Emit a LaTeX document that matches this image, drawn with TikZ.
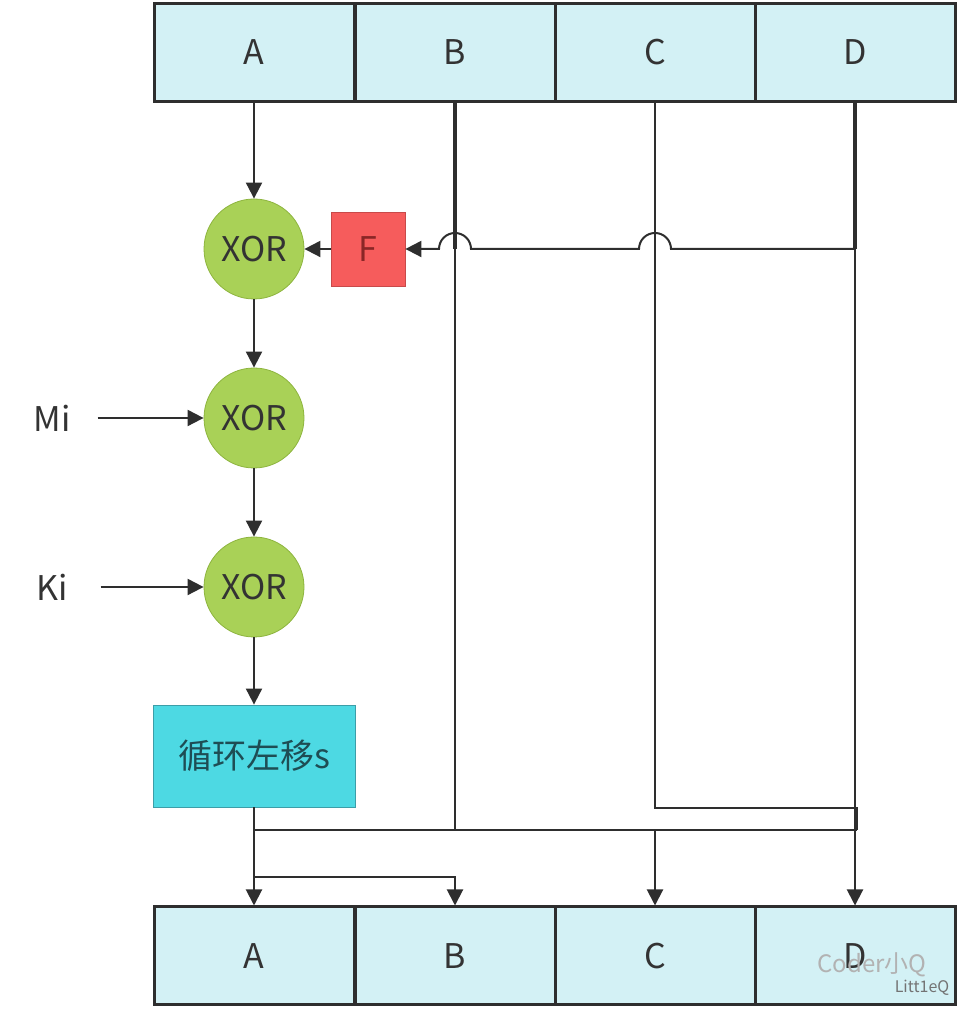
\documentclass[tikz,border=0pt]{standalone}
\usepackage{fontspec}
\setmainfont{Noto Sans CJK SC}
\usepackage{xcolor}
\usepackage{tikz}
\usetikzlibrary{arrows.meta,positioning}

\definecolor{cellfill}{HTML}{D3F1F5}
\definecolor{edge}{HTML}{2E2E2E}
\definecolor{txt}{HTML}{333333}
\definecolor{xorfill}{HTML}{A9D157}
\definecolor{xoredge}{HTML}{8DB43E}
\definecolor{ffill}{HTML}{F65C5C}
\definecolor{fedge}{HTML}{C84A4A}
\definecolor{ftext}{HTML}{8A2626}
\definecolor{sfill}{HTML}{4DD9E3}
\definecolor{sedge}{HTML}{3C9EA8}
\definecolor{stext}{HTML}{1E4D54}

\begin{document}
\begin{tikzpicture}[
    x=0.5pt, y=0.5pt,
    >={Triangle[length=8pt,width=8pt]},
    font=\fontsize{17}{20}\selectfont,
    text=txt,
    cell/.style={
        draw=edge,
        line width=1.5pt,
        fill=cellfill,
        minimum width=100pt,
        minimum height=49pt,
        inner sep=0pt
    },
    xorc/.style={
        circle,
        draw=xoredge,
        fill=xorfill,
        minimum size=50pt,
        inner sep=0pt
    },
    func/.style={
        draw=fedge,
        fill=ffill,
        minimum size=37pt,
        inner sep=0pt,
        text=ftext
    },
    shiftbox/.style={
        draw=sedge,
        fill=sfill,
        minimum width=101pt,
        minimum height=51pt,
        text=stext
    },
    line/.style={draw=edge, line width=1pt},
    arr/.style={line, ->}
]

\useasboundingbox (0,0) rectangle (960,1010);

% input registers
\node[cell] (tA) at (254,957.5) {A};
\node[cell] (tB) at (455,957.5) {B};
\node[cell] (tC) at (655,957.5) {C};
\node[cell] (tD) at (855,957.5) {D};

% round operations
\node[xorc] (xor1) at (254,761) {XOR};
\node[func] (fbox) at (368,761) {F};
\node[xorc] (xor2) at (254,592) {XOR};
\node[xorc] (xor3) at (254,423) {XOR};
\node (mi) at (52,592) {Mi};
\node (ki) at (52,423) {Ki};
\node[shiftbox] (shift) at (254,254) {循环左移s};

% output registers
\node[cell] (bA) at (254,54) {A};
\node[cell] (bB) at (455,54) {B};
\node[cell] (bC) at (655,54) {C};
\node[cell] (bD) at (855,54) {D};

\node[text=black!30, font=\fontsize{12}{14}\selectfont] (wm) at (872,45) {Coder小Q};
\node[text=black!55, font=\fontsize{8}{10}\selectfont] (wm2) at (922,22) {Litt1eQ};

\coordinate (busL) at (254,180);
\coordinate (busR) at (857,180);
\coordinate (cturn) at (857,202);
\coordinate (split) at (254,133);

% main chain
\draw[arr] (tA.south) -- (xor1.north);
\draw[arr] (fbox.west) -- (xor1.east);
\draw[arr] (xor1.south) -- (xor2.north);
\draw[arr] (xor2.south) -- (xor3.north);
\draw[arr] (xor3.south) -- (shift.north);
\draw[arr, shorten <=10pt] (mi.east) -- (xor2.west);
\draw[arr, shorten <=13pt] (ki.east) -- (xor3.west);

% inputs of F
\draw[line, line width=1.6pt] (tB.south) -- (tB.south |- fbox.east);
\draw[line, line width=1.6pt] (tD.south) -- (tD.south |- fbox.east);
\draw[arr] (tD.south |- fbox.east)
    -- ([xshift=8pt]tC.south |- fbox.east) arc[start angle=0, end angle=180, radius=8pt]
    -- ([xshift=8pt]tB.south |- fbox.east) arc[start angle=0, end angle=180, radius=8pt]
    -- (fbox.east);

% register wiring
\draw[line] (tB.south) -- (tB.south |- busL);
\draw[line] (tC.south) -- (tC.south |- cturn) -- (cturn) -- (busR);
\draw[line] (busL) -- (busR);
\draw[arr] (tD.south) -- (bD.north);
\draw[arr] (shift.south) -- (bA.north);
\draw[arr] (split) -| (bB.north);
\draw[arr] (busL -| bC.north) -- (bC.north);

\end{tikzpicture}
\end{document}
